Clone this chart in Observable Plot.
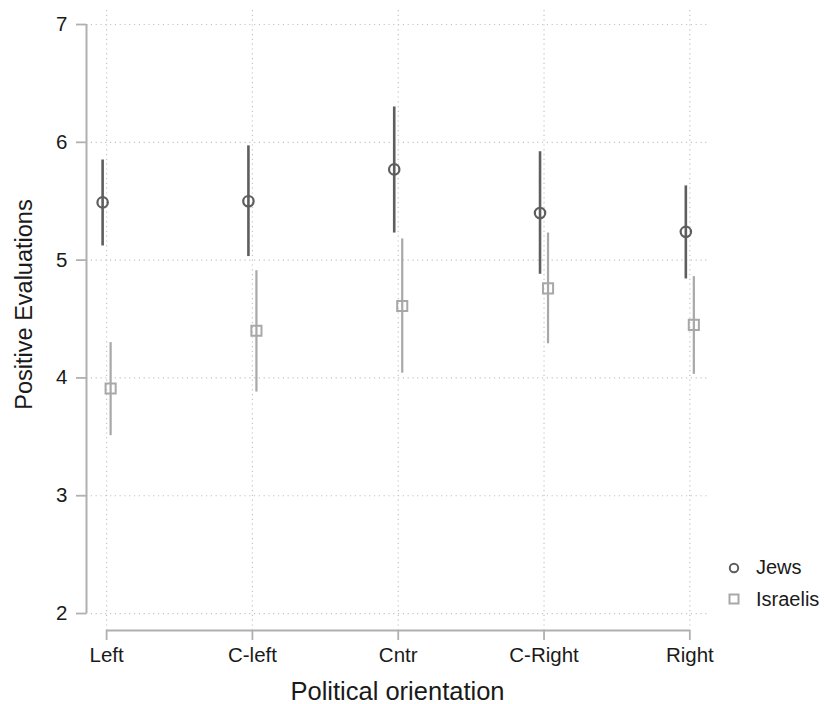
<!DOCTYPE html>
<html>
<head>
<meta charset="utf-8">
<script src="https://cdn.jsdelivr.net/npm/d3@7"></script>
<script src="https://cdn.jsdelivr.net/npm/@observablehq/plot@0.6"></script>
<style>
  html, body { margin: 0; padding: 0; background: #fff; }
  #wrap { position: relative; width: 824px; height: 704px; font-family: "Liberation Sans", Arial, Helvetica, sans-serif; }
  #legend { position: absolute; left: 724px; top: 552px; }
  #legend .item { display: flex; align-items: center; height: 31.5px; font-size: 20px; color: #1a1a1a; }
  #legend svg { width: 20px; height: 20px; margin-right: 12px; }
</style>
</head>
<body>
<div id="wrap"></div>
<script>
// ---- data ----
const categories = ["Left", "C-left", "Cntr", "C-Right", "Right"];
const positions = [1, 2, 3, 4, 5];
const yTicks = [2, 3, 4, 5, 6, 7];

const seriesNames = ["Jews", "Israelis"];
const jewsMean = [5.49, 5.50, 5.77, 5.40, 5.24];
const jewsLow  = [5.12, 5.03, 5.23, 4.88, 4.84];
const jewsHigh = [5.85, 5.97, 6.30, 5.92, 5.63];

const israelisMean = [3.91, 4.40, 4.61, 4.76, 4.45];
const israelisLow  = [3.51, 3.88, 4.04, 4.29, 4.03];
const israelisHigh = [4.30, 4.91, 5.18, 5.23, 4.86];

// ---- style ----
const jewsColor = "#5e5e5e";
const israelisColor = "#a8a8a8";
const axisColor = "#b0b0b0";
const gridColor = "#c4c4c4";
const textColor = "#1a1a1a";

const jews = positions.map((p, i) => ({pos: p, mean: jewsMean[i], low: jewsLow[i], high: jewsHigh[i]}));
const israelis = positions.map((p, i) => ({pos: p, mean: israelisMean[i], low: israelisLow[i], high: israelisHigh[i]}));

const xDomain = [0.862, 5.128];
const yDomain = [1.856, 7.119];

const chart = Plot.plot({
  width: 824,
  height: 704,
  marginLeft: 86,
  marginRight: 116,
  marginTop: 10,
  marginBottom: 74,
  style: {fontFamily: "\"Liberation Sans\", Arial, Helvetica, sans-serif", background: "#fff", color: textColor},
  x: {type: "linear", domain: xDomain},
  y: {type: "linear", domain: yDomain},
  marks: [
    // dotted grid
    Plot.gridY(yTicks, {stroke: gridColor, strokeOpacity: 1, strokeWidth: 1.2, strokeDasharray: "1.2,3.6"}),
    Plot.gridX(positions, {stroke: gridColor, strokeOpacity: 1, strokeWidth: 1.2, strokeDasharray: "1.2,3.6"}),
    // axis lines spanning the data range
    Plot.ruleX([xDomain[0]], {y1: yTicks[0], y2: yTicks[yTicks.length - 1], stroke: axisColor, strokeWidth: 2}),
    Plot.ruleY([yDomain[0]], {x1: positions[0], x2: positions[positions.length - 1], stroke: axisColor, strokeWidth: 2}),
    // axes
    Plot.axisY(yTicks, {anchor: "left", tickSize: 10, tickPadding: 9, fontSize: 20.5, stroke: axisColor, strokeWidth: 1.8, fill: textColor, label: null,
      tickFormat: d => String(d)}),
    Plot.axisX(positions, {anchor: "bottom", tickSize: 10, tickPadding: 7, fontSize: 20.5, stroke: axisColor, strokeWidth: 1.8, fill: textColor, label: null,
      tickFormat: d => categories[positions.indexOf(d)]}),
    // axis titles
    Plot.text(["Political orientation"], {frameAnchor: "bottom", dy: 61, fontSize: 25.5, fill: textColor, lineAnchor: "middle", textAnchor: "middle"}),
    Plot.text(["Positive Evaluations"], {frameAnchor: "left", dx: -62, dy: -16, rotate: -90, fontSize: 23.5, fill: textColor, lineAnchor: "middle", textAnchor: "middle"}),
    // Israelis (behind)
    Plot.ruleX(israelis, {x: "pos", y1: "low", y2: "high", stroke: israelisColor, strokeWidth: 2.2, dx: 4}),
    Plot.dot(israelis, {x: "pos", y: "mean", symbol: "square", r: 5.7, stroke: israelisColor, strokeWidth: 2, fill: "none", dx: 4}),
    // Jews
    Plot.ruleX(jews, {x: "pos", y1: "low", y2: "high", stroke: jewsColor, strokeWidth: 2.6, dx: -4}),
    Plot.dot(jews, {x: "pos", y: "mean", symbol: "circle", r: 5.2, stroke: jewsColor, strokeWidth: 2.2, fill: "none", dx: -4})
  ]
});

const wrap = document.getElementById("wrap");
wrap.appendChild(chart);

// legend
const legend = document.createElement("div");
legend.id = "legend";
const legendSpec = [
  {name: seriesNames[0], color: jewsColor, shape: "circle"},
  {name: seriesNames[1], color: israelisColor, shape: "square"}
];
for (const s of legendSpec) {
  const item = document.createElement("div");
  item.className = "item";
  const shape = s.shape === "circle"
    ? `<circle cx="10" cy="10" r="4.2" fill="none" stroke="${s.color}" stroke-width="2"/>`
    : `<rect x="5.5" y="5.5" width="9" height="9" fill="none" stroke="${s.color}" stroke-width="2"/>`;
  item.innerHTML = `<svg viewBox="0 0 20 20">${shape}</svg><span>${s.name}</span>`;
  legend.appendChild(item);
}
wrap.appendChild(legend);
</script>
</body>
</html>
